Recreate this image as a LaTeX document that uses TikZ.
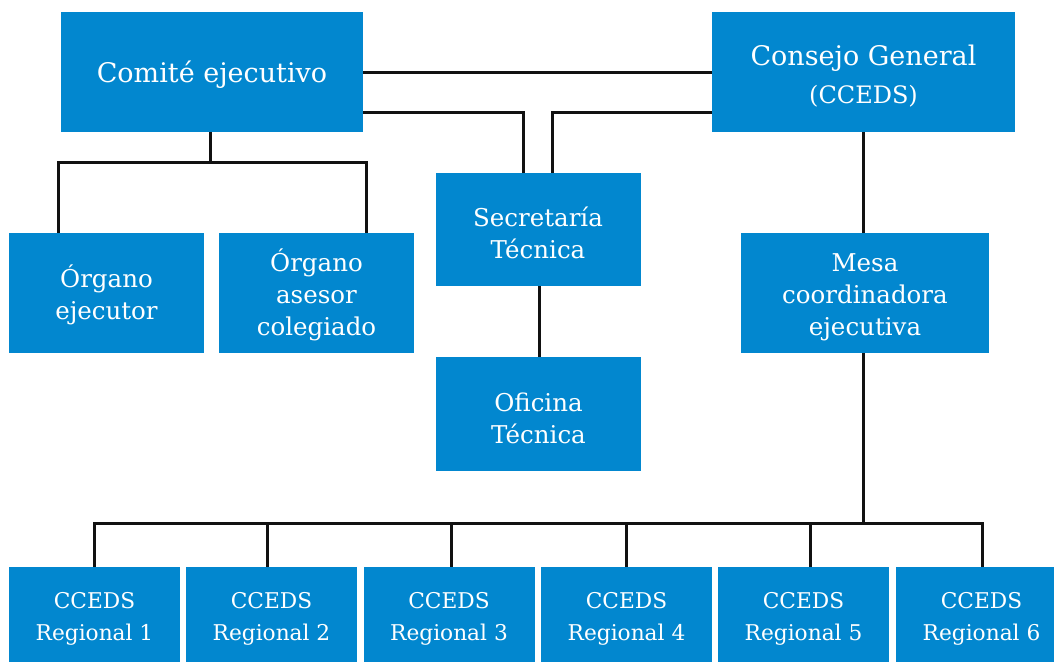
\documentclass[tikz,border=0pt]{standalone}
\usepackage{fontspec}
\setmainfont{DejaVu Serif}
\usetikzlibrary{calc}
\definecolor{boxblue}{HTML}{0287CF}
\definecolor{linkcol}{HTML}{111111}
\newcommand{\topstrut}[1]{\rule{0pt}{#1em}}
\begin{document}
\begin{tikzpicture}[x=1pt,y=-1pt,
  box/.style={rectangle, fill=boxblue, text=white, inner sep=0pt, align=center},
  bigtxt/.style={font=\fontsize{27}{38}\selectfont},
  midtxt/.style={font=\fontsize{24.5}{32}\selectfont},
  regtxt/.style={font=\fontsize{21.7}{32}\selectfont},
  link/.style={draw=linkcol, line width=3pt, line join=miter}]
\useasboundingbox (0,0) rectangle (1054,662);
\clip (0,0) rectangle (1054,662);
% top level
\node[box, bigtxt, minimum width=302pt, minimum height=120pt] (com) at (212,72) {\topstrut{1.0}Comité ejecutivo};
\node[box, bigtxt, minimum width=303pt, minimum height=120pt] (con) at (863.5,72) {\topstrut{1.05}Consejo General\\{\fontsize{24}{38}\selectfont (CCEDS)}};
% second level
\node[box, midtxt, minimum width=195pt, minimum height=120pt] (oe) at (106.5,293) {\topstrut{1.1}Órgano\\ejecutor};
\node[box, midtxt, minimum width=195pt, minimum height=120pt] (oa) at (316.5,293) {\topstrut{1.1}Órgano\\asesor\\colegiado};
\node[box, midtxt, minimum width=205pt, minimum height=113pt] (sec) at (538,229.5) {\topstrut{1.1}Secretaría\\Técnica};
\node[box, midtxt, minimum width=205pt, minimum height=114pt] (ofi) at (538.5,414) {\topstrut{1.1}Oficina\\Técnica};
\node[box, midtxt, minimum width=248pt, minimum height=120pt] (mesa) at (865,293) {\topstrut{1.1}Mesa\\coordinadora\\ejecutiva};
% regional
\foreach \i/\cx in {1/94.5, 2/271.5, 3/449, 4/626.5, 5/803.5, 6/981.5}{
  \node[box, regtxt, minimum width=171pt, minimum height=95pt] (r\i) at (\cx,614.5) {\topstrut{1.1}CCEDS\\Regional \i};
}
% connectors
\draw[link] (com.east) -- (con.west);
\coordinate (secL) at ($(sec.north)+(-15,0)$);
\coordinate (secR) at ($(sec.north)+(14,0)$);
\draw[link] (secL) |- ($(com.east)+(0,40)$);
\draw[link] (secR) |- ($(con.west)+(0,40)$);
\coordinate (comhub) at ($(com.south)+(-2,30)$);
\draw[link] ($(com.south)+(-2,0)$) -- (comhub);
\draw[link] ($(oe.north)+(-48,0)$) |- (comhub) -| ($(oa.north)+(50,0)$);
\draw[link] ($(sec.south)+(1.5,0)$) -- ($(ofi.north)+(1,0)$);
\draw[link] (con.south) -- (mesa.north -| con.south);
\coordinate (bus) at ($(mesa.south)+(-2,170)$);
\draw[link] ($(mesa.south)+(-2,0)$) -- (bus);
\draw[link] ($(r1.north)+(-0.5,0)$) |- (bus) -| ($(r6.north)+(0.5,0)$);
\draw[link] ($(r2.north)+(-4.5,0)$) -- ++(0,-43);
\draw[link] ($(r3.north)+(2,0)$) -- ++(0,-43);
\draw[link] ($(r4.north)+(-0.5,0)$) -- ++(0,-43);
\draw[link] ($(r5.north)+(6.5,0)$) -- ++(0,-43);
\end{tikzpicture}
\end{document}
